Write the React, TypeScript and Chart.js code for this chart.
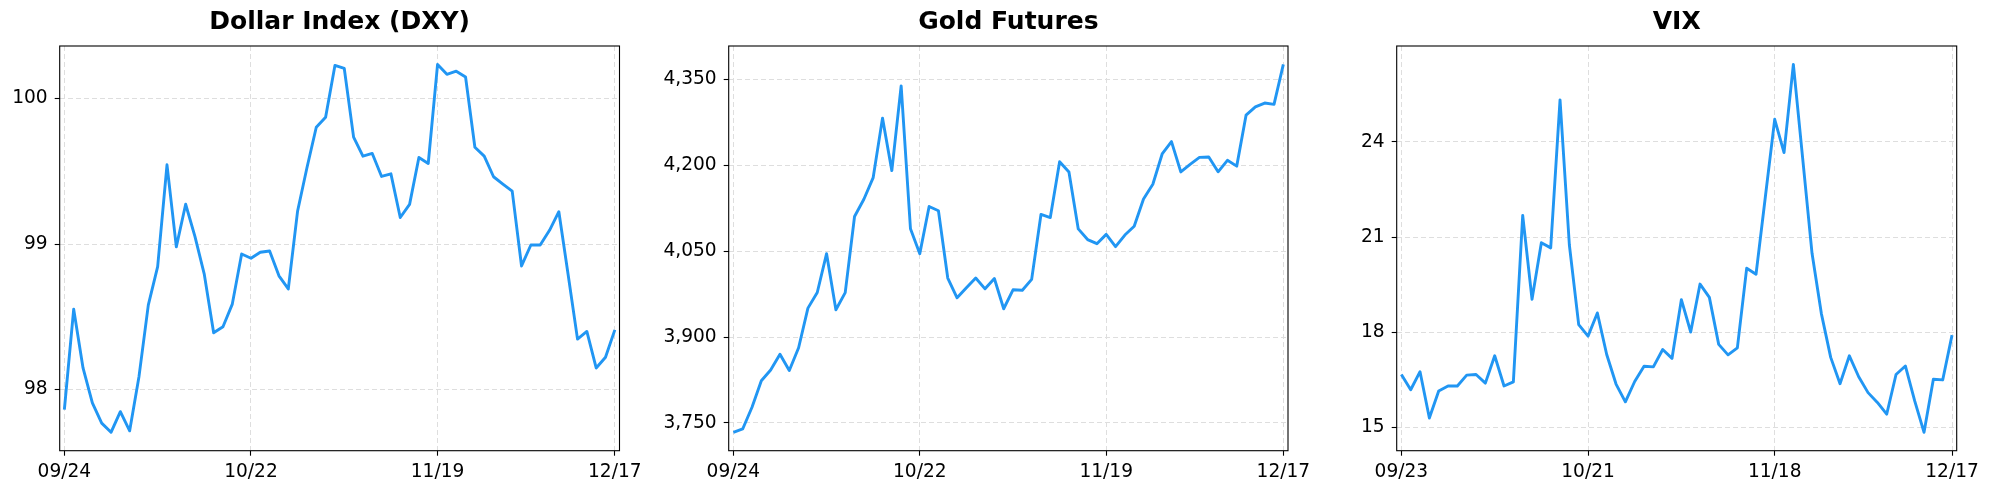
import React, { useEffect, useRef } from 'react';
import { Chart, registerables } from 'chart.js';

Chart.register(...registerables);
Chart.defaults.font.family = '"DejaVu Sans", sans-serif';

// ---------- data ----------
const dxyTitle = 'Dollar Index (DXY)';
const dxyTickIndex = [0, 20, 40, 59];
const dxyTickLabels = ['09/24', '10/22', '11/19', '12/17'];
const dxyYTicks = [98, 99, 100];
const dxyValues = [
  97.863, 98.553, 98.149, 97.909, 97.770, 97.707, 97.849, 97.717, 98.091, 98.583,
  98.846, 99.545, 98.981, 99.274, 99.051, 98.792, 98.391, 98.432, 98.588, 98.932,
  98.903, 98.944, 98.953, 98.782, 98.692, 99.228, 99.525, 99.803, 99.872, 100.228,
  100.207, 99.735, 99.604, 99.623, 99.465, 99.483, 99.183, 99.273, 99.595, 99.554,
  100.235, 100.167, 100.188, 100.148, 99.666, 99.605, 99.463, 99.413, 99.364, 98.850,
  98.994, 98.994, 99.095, 99.223, 98.788, 98.347, 98.400, 98.149, 98.223, 98.411,
];

const goldTitle = 'Gold Futures';
const goldTickIndex = [0, 20, 40, 59];
const goldTickLabels = ['09/24', '10/22', '11/19', '12/17'];
const goldYTicks = [3750, 3900, 4050, 4200, 4350];
const goldValues = [
  3733.7, 3739.5, 3777.5, 3823.6, 3842.5, 3870.0, 3841.5, 3881.3, 3950.5, 3977.8,
  4045.6, 3947.7, 3977.5, 4110.5, 4140.6, 4178.4, 4282.2, 4190.5, 4338.4, 4089.1,
  4045.6, 4127.9, 4120.4, 4003.0, 3968.5, 3986.2, 4003.2, 3984.2, 4002.2, 3949.4,
  3982.5, 3981.8, 4000.7, 4114.0, 4108.7, 4206.2, 4188.2, 4088.8, 4070.2, 4063.0,
  4079.2, 4057.7, 4078.1, 4093.5, 4141.0, 4166.8, 4219.6, 4241.3, 4188.3, 4201.6,
  4213.7, 4214.3, 4188.5, 4208.5, 4198.4, 4287.4, 4301.8, 4308.5, 4306.2, 4376.0,
];

const vixTitle = 'VIX';
const vixTickIndex = [0, 20, 40, 59];
const vixTickLabels = ['09/23', '10/21', '11/18', '12/17'];
const vixYTicks = [15, 18, 21, 24];
const vixValues = [
  16.67, 16.19, 16.76, 15.30, 16.15, 16.31, 16.31, 16.65, 16.67, 16.40,
  17.26, 16.31, 16.44, 21.68, 19.04, 20.82, 20.66, 25.32, 20.75, 18.24,
  17.88, 18.61, 17.30, 16.37, 15.81, 16.45, 16.93, 16.91, 17.46, 17.18,
  19.03, 18.01, 19.52, 19.10, 17.62, 17.29, 17.51, 20.02, 19.83, 22.27,
  24.71, 23.66, 26.44, 23.47, 20.49, 18.59, 17.21, 16.38, 17.26, 16.60,
  16.10, 15.79, 15.42, 16.67, 16.94, 15.84, 14.85, 16.52, 16.50, 17.91,
];

// ---------- layout / style ----------
const W = 1989;
const H = 490;
const PANEL_W = 663;
const PLOT_TOP = 46;
const PLOT_BOTTOM = 450.7;
const LINE_COLOR = '#2196F3';
const GRID_COLOR = '#dedede';
const TICK_FONT = 18.6;

type PanelProps = {
  title: string;
  values: number[];
  tickIndex: number[];
  tickLabels: string[];
  yTicks: number[];
  fmt: (v: number) => string;
  left: number;
  plotLeft: number;
  plotRight: number;
};

function Panel(p: PanelProps) {
  const ref = useRef<HTMLCanvasElement | null>(null);
  useEffect(() => {
    if (!ref.current) return;
    const lo = Math.min(...p.values);
    const hi = Math.max(...p.values);
    const m = (hi - lo) * 0.05;
    const framePlugin = {
      id: 'frameAndTitle',
      afterDraw(chart: any) {
        const { ctx, chartArea } = chart;
        ctx.save();
        ctx.strokeStyle = '#000';
        ctx.lineWidth = 1.1;
        ctx.strokeRect(chartArea.left, chartArea.top, chartArea.right - chartArea.left, chartArea.bottom - chartArea.top);
        ctx.fillStyle = '#000';
        ctx.font = 'bold 25px "DejaVu Sans", sans-serif';
        ctx.textAlign = 'center';
        ctx.textBaseline = 'alphabetic';
        ctx.fillText(p.title, (chartArea.left + chartArea.right) / 2, 28.5);
        ctx.restore();
      },
    };
    const chart = new Chart(ref.current, {
      type: 'line',
      data: {
        datasets: [
          {
            data: p.values.map((v, i) => ({ x: i, y: v })),
            borderColor: LINE_COLOR,
            backgroundColor: LINE_COLOR,
            borderWidth: 2.9,
            pointRadius: 0,
            tension: 0,
            fill: false,
            borderJoinStyle: 'round',
          },
        ],
      },
      options: {
        animation: false,
        responsive: false,
        devicePixelRatio: 1,
        layout: { padding: { top: PLOT_TOP, left: 0, bottom: 0, right: p.left + PANEL_W - p.plotRight } },
        plugins: { legend: { display: false }, tooltip: { enabled: false }, title: { display: false } },
        scales: {
          x: {
            type: 'linear',
            min: -0.5,
            max: p.values.length - 0.5,
            afterBuildTicks: (s: any) => {
              s.ticks = p.tickIndex.map((v) => ({ value: v }));
            },
            afterFit: (s: any) => {
              s.height = H - PLOT_BOTTOM;
            },
            ticks: {
              autoSkip: false,
              maxRotation: 0,
              padding: 5,
              color: '#000',
              font: { size: TICK_FONT },
              callback: (v: any) => {
                const k = p.tickIndex.indexOf(Number(v));
                return k >= 0 ? p.tickLabels[k] : '';
              },
            },
            grid: { color: GRID_COLOR, lineWidth: 1, tickColor: '#000', tickLength: 5, tickWidth: 1.1 },
            border: { display: false, dash: [5, 3] },
          },
          y: {
            type: 'linear',
            min: lo - m,
            max: hi + m,
            afterBuildTicks: (s: any) => {
              s.ticks = p.yTicks.map((v) => ({ value: v }));
            },
            afterFit: (s: any) => {
              s.width = p.plotLeft - p.left;
            },
            ticks: {
              padding: 7,
              color: '#000',
              font: { size: TICK_FONT },
              callback: (v: any) => p.fmt(Number(v)),
            },
            grid: { color: GRID_COLOR, lineWidth: 1, tickColor: '#000', tickLength: 5, tickWidth: 1.1 },
            border: { display: false, dash: [5, 3] },
          },
        },
      } as any,
      plugins: [framePlugin],
    });
    return () => chart.destroy();
  }, []);
  return (
    <canvas
      ref={ref}
      width={PANEL_W}
      height={H}
      style={{ position: 'absolute', left: p.left, top: 0, width: PANEL_W, height: H }}
    />
  );
}

const fmtPlain = (v: number) => String(v);
const fmtComma = (v: number) => v.toLocaleString('en-US');

export default function App() {
  return (
    <div style={{ position: 'fixed', left: 0, top: 0, width: W, height: H, background: '#fff' }}>
      <Panel title={dxyTitle} values={dxyValues} tickIndex={dxyTickIndex} tickLabels={dxyTickLabels}
        yTicks={dxyYTicks} fmt={fmtPlain} left={0} plotLeft={59.7} plotRight={619.5} />
      <Panel title={goldTitle} values={goldValues} tickIndex={goldTickIndex} tickLabels={goldTickLabels}
        yTicks={goldYTicks} fmt={fmtComma} left={663} plotLeft={728.7} plotRight={1288} />
      <Panel title={vixTitle} values={vixValues} tickIndex={vixTickIndex} tickLabels={vixTickLabels}
        yTicks={vixYTicks} fmt={fmtPlain} left={1326} plotLeft={1396.7} plotRight={1956.7} />
    </div>
  );
}
